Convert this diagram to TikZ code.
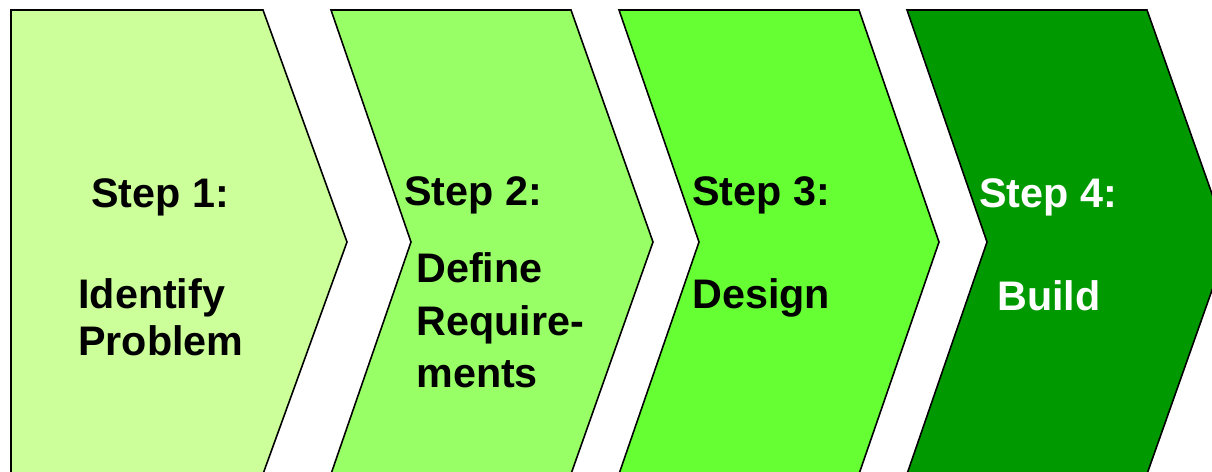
\documentclass[tikz,border=0pt]{standalone}
\usepackage{fontspec}
\setmainfont{Liberation Sans}
\usepackage{xcolor}
\definecolor{stepone}{HTML}{CCFF99}
\definecolor{steptwo}{HTML}{99FF66}
\definecolor{stepthree}{HTML}{66FF33}
\definecolor{stepfour}{HTML}{009900}
\tikzset{
  chevron/.style={draw=black, line width=0.9pt, line join=miter},
  steptext/.style={font=\fontsize{23.5}{47}\selectfont\bfseries, inner sep=0pt,
    anchor=base west, align=left}
}

\begin{document}
\begin{tikzpicture}[x=0.02cm, y=-0.02cm]
      \useasboundingbox (0,0) rectangle (1212,471);
      \clip (0,0) rectangle (1212,471);

      \draw[chevron, fill=stepone] (11,10) -- (263,10) -- (347,242) -- (263,474)
        -- (11,474) -- cycle;
      \draw[chevron, fill=steptwo] (331,10) -- (571,10) -- (653,242) -- (571,474)
        -- (331,474) -- (411,242) -- cycle;
      \draw[chevron, fill=stepthree] (619,10) -- (859,10) -- (939,242) -- (859,474)
        -- (619,474) -- (699,242) -- cycle;
      \draw[chevron, fill=stepfour] (907,10) -- (1147,10) -- (1229,242) -- (1147,474)
        -- (907,474) -- (987,242) -- cycle;

      \node[steptext] (head1) at (91,207) {Step 1:};
      \node[steptext] (body1) at (78,308) {Identify};
      \node[steptext] (body1b) at (78,355) {Problem};

      \node[steptext] (head2) at (404,205) {Step 2:};
      \node[steptext] (body2) at (416,282) {Define};
      \node[steptext] (body2b) at (416,335) {Require-};
      \node[steptext] (body2c) at (416,387) {ments};

      \node[steptext] (head3) at (692,205) {Step 3:};
      \node[steptext] (body3) at (692,308) {Design};

      \node[steptext, text=white] (head4) at (979,207) {Step 4:};
      \node[steptext, text=white] (body4) at (997,310) {Build};
    \end{tikzpicture}
\end{document}
